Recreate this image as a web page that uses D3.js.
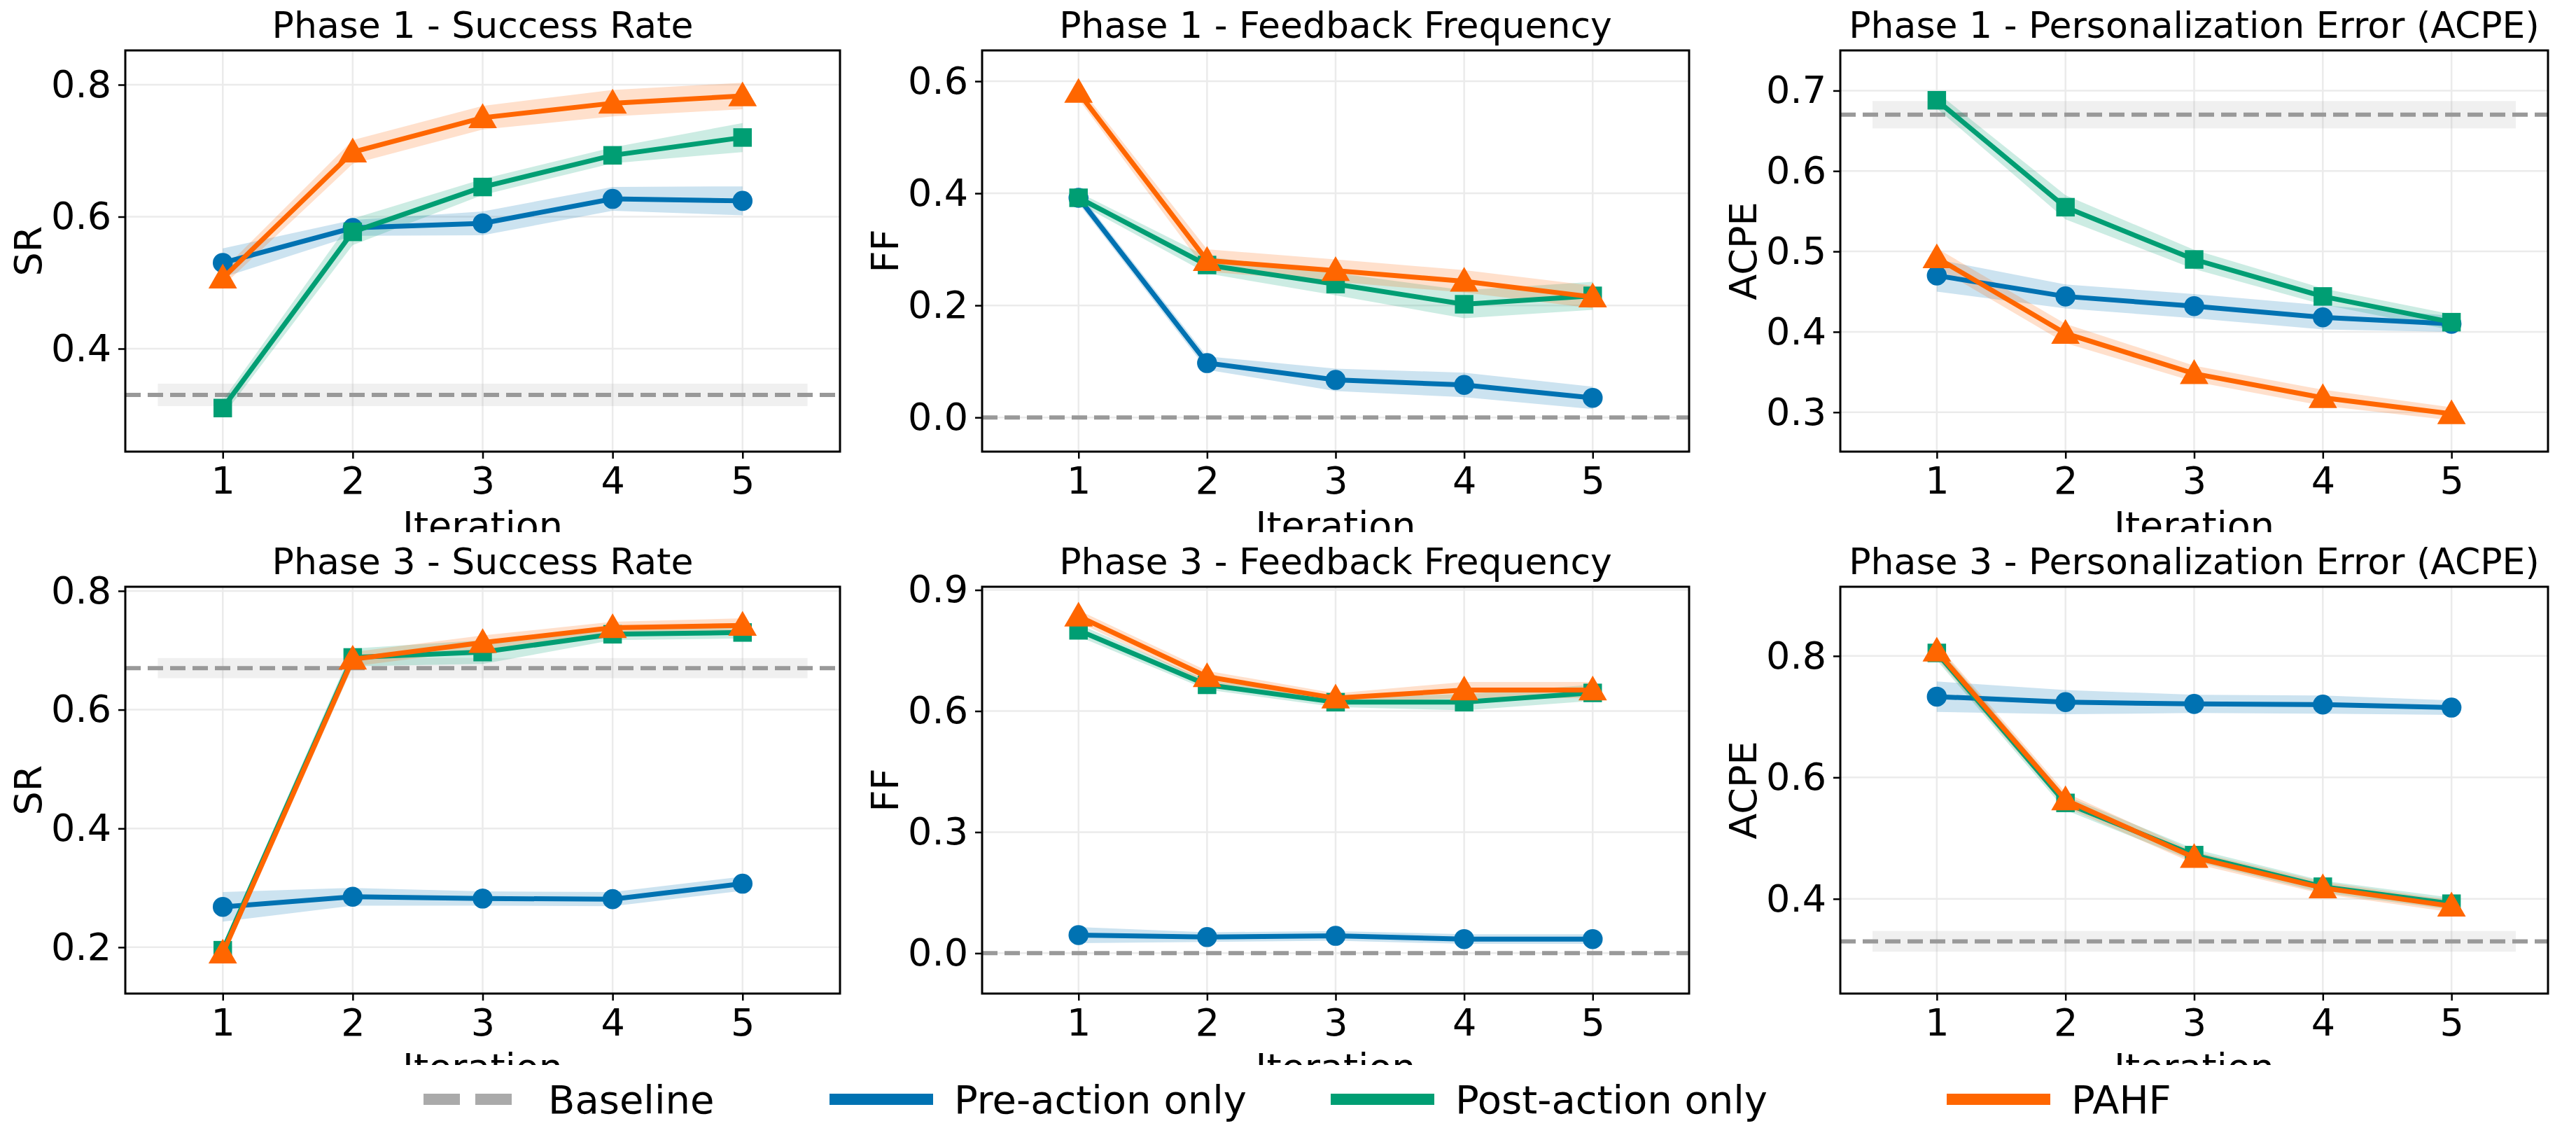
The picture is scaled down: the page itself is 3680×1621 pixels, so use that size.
<!DOCTYPE html>
<html><head><meta charset="utf-8">
<script src="https://cdn.jsdelivr.net/npm/d3@7"></script>
<style>body{margin:0;background:#fff}text{font-family:"DejaVu Sans",sans-serif}</style>
</head><body><svg id="c" width="3680" height="1621"></svg>
<script>
const iterations = [1, 2, 3, 4, 5];
const seriesNames = ["Pre-action only", "Post-action only", "PAHF"];
const colors = ["#0072B2", "#009E73", "#FF6600"];
const titles = ["Phase 1 - Success Rate", "Phase 1 - Feedback Frequency", "Phase 1 - Personalization Error (ACPE)",
                "Phase 3 - Success Rate", "Phase 3 - Feedback Frequency", "Phase 3 - Personalization Error (ACPE)"];
const yLabels = ["SR", "FF", "ACPE", "SR", "FF", "ACPE"];
const baselines = [0.33, 0.0, 0.67, 0.67, 0.0, 0.33];
const yDomains = [[0.244, 0.852], [-0.061, 0.655], [0.251, 0.75], [0.122, 0.807], [-0.1, 0.908], [0.244, 0.914]];
const yTicks = [[0.4, 0.6, 0.8], [0.0, 0.2, 0.4, 0.6], [0.3, 0.4, 0.5, 0.6, 0.7], [0.2, 0.4, 0.6, 0.8], [0.0, 0.3, 0.6, 0.9], [0.4, 0.6, 0.8]];
// values per panel: [pre, post, pahf]
const p1SR = [[0.530, 0.583, 0.590, 0.627, 0.624], [0.310, 0.577, 0.645, 0.693, 0.720], [0.507, 0.698, 0.750, 0.772, 0.783]];
const p1FF = [[0.392, 0.097, 0.067, 0.058, 0.035], [0.392, 0.272, 0.238, 0.202, 0.217], [0.580, 0.280, 0.262, 0.243, 0.215]];
const p1ACPE = [[0.470, 0.444, 0.432, 0.418, 0.410], [0.688, 0.555, 0.490, 0.444, 0.412], [0.492, 0.398, 0.348, 0.318, 0.298]];
const p3SR = [[0.268, 0.285, 0.282, 0.281, 0.307], [0.195, 0.688, 0.697, 0.727, 0.730], [0.190, 0.685, 0.713, 0.738, 0.742]];
const p3FF = [[0.045, 0.040, 0.043, 0.035, 0.035], [0.800, 0.665, 0.622, 0.622, 0.645], [0.835, 0.685, 0.632, 0.652, 0.652]];
const p3ACPE = [[0.733, 0.724, 0.721, 0.720, 0.715], [0.805, 0.558, 0.472, 0.420, 0.392], [0.808, 0.563, 0.468, 0.418, 0.388]];
const bandP1SR = [[0.022, 0.012, 0.018, 0.018, 0.022], [0.012, 0.02, 0.012, 0.012, 0.022], [0.012, 0.018, 0.018, 0.02, 0.02]];
const bandP1FF = [[0.01, 0.012, 0.02, 0.022, 0.02], [0.01, 0.015, 0.02, 0.025, 0.025], [0.012, 0.02, 0.02, 0.02, 0.02]];
const bandP1ACPE = [[0.02, 0.015, 0.015, 0.015, 0.01], [0.01, 0.015, 0.012, 0.01, 0.01], [0.012, 0.012, 0.01, 0.01, 0.008]];
const bandP3SR = [[0.025, 0.015, 0.012, 0.012, 0.012], [0.01, 0.015, 0.02, 0.01, 0.01], [0.01, 0.012, 0.012, 0.01, 0.012]];
const bandP3FF = [[0.02, 0.012, 0.012, 0.012, 0.012], [0.015, 0.012, 0.012, 0.02, 0.02], [0.015, 0.015, 0.012, 0.02, 0.02]];
const bandP3ACPE = [[0.025, 0.02, 0.015, 0.015, 0.012], [0.012, 0.012, 0.01, 0.01, 0.01], [0.012, 0.012, 0.01, 0.01, 0.01]];
const baselineBand = [0.017, 0.0, 0.017, 0.017, 0.0, 0.017];

const panelData = [p1SR, p1FF, p1ACPE, p3SR, p3FF, p3ACPE];
const panelBands = [bandP1SR, bandP1FF, bandP1ACPE, bandP3SR, bandP3FF, bandP3ACPE];

const svg = d3.select("#c");
const colX = [[179, 1200], [1403, 2413], [2629, 3640]];
const rowY = [[72, 645], [838, 1419]];
const clipBottom = [760, 1521];

const defs = svg.append("defs");
panelData.forEach((data, p) => {
  const r = Math.floor(p / 3), c = p % 3;
  const [x0, x1] = colX[c], [y0, y1] = rowY[r];
  defs.append("clipPath").attr("id", "cell" + p).append("rect")
    .attr("x", x0 - 200).attr("y", y0 - 80).attr("width", x1 - x0 + 220).attr("height", clipBottom[r] - y0 + 80);
  defs.append("clipPath").attr("id", "plot" + p).append("rect")
    .attr("x", x0).attr("y", y0).attr("width", x1 - x0).attr("height", y1 - y0);
  const g = svg.append("g").attr("clip-path", `url(#cell${p})`);
  const x = d3.scaleLinear().domain([0.25, 5.75]).range([x0, x1]);
  const y = d3.scaleLinear().domain(yDomains[p]).range([y1, y0]);
  g.append("g").selectAll("line").data(iterations).join("line")
    .attr("x1", d => x(d)).attr("x2", d => x(d)).attr("y1", y0).attr("y2", y1)
    .attr("stroke", "#ebebeb").attr("stroke-width", 2.5);
  g.append("g").selectAll("line").data(yTicks[p]).join("line")
    .attr("y1", d => y(d)).attr("y2", d => y(d)).attr("x1", x0).attr("x2", x1)
    .attr("stroke", "#ebebeb").attr("stroke-width", 2.5);
  const pg = g.append("g").attr("clip-path", `url(#plot${p})`);
  const bb = baselineBand[p];
  if (bb > 0) pg.append("rect").attr("x", x(0.5)).attr("width", x(5.5) - x(0.5))
    .attr("y", y(baselines[p] + bb)).attr("height", y(baselines[p] - bb) - y(baselines[p] + bb))
    .attr("fill", "#999").attr("opacity", 0.15);
  pg.append("line").attr("x1", x0).attr("x2", x1).attr("y1", y(baselines[p])).attr("y2", y(baselines[p]))
    .attr("stroke", "#999").attr("stroke-width", 6).attr("stroke-dasharray", "22,10");
  data.forEach((vals, s) => {
    const band = panelBands[p][s];
    const area = d3.area().x((d, i) => x(iterations[i])).y0((d, i) => y(d - band[i])).y1((d, i) => y(d + band[i]));
    pg.append("path").attr("d", area(vals)).attr("fill", colors[s]).attr("opacity", 0.2);
  });
  data.forEach((vals, s) => {
    const line = d3.line().x((d, i) => x(iterations[i])).y(d => y(d));
    pg.append("path").attr("d", line(vals)).attr("fill", "none").attr("stroke", colors[s]).attr("stroke-width", 7);
    const sym = [d3.symbolCircle, d3.symbolSquare, d3.symbolTriangle][s];
    const size = [640, 700, 720][s];
    pg.append("g").selectAll("path").data(vals).join("path")
      .attr("transform", (d, i) => `translate(${x(iterations[i])},${y(d) + (s === 2 ? 3 : 0)})`)
      .attr("d", d3.symbol().type(sym).size(size)).attr("fill", colors[s]);
  });
  g.append("rect").attr("x", x0).attr("y", y0).attr("width", x1 - x0).attr("height", y1 - y0)
    .attr("fill", "none").attr("stroke", "#000").attr("stroke-width", 3);
  const ax = g.append("g").attr("transform", `translate(0,${y1})`)
    .call(d3.axisBottom(x).tickValues(iterations).tickFormat(d3.format("d")).tickSize(10).tickPadding(12));
  const ay = g.append("g").attr("transform", `translate(${x0},0)`)
    .call(d3.axisLeft(y).tickValues(yTicks[p]).tickFormat(d3.format(".1f")).tickSize(10).tickPadding(10));
  [ax, ay].forEach(a => {
    a.select(".domain").remove();
    a.selectAll("line").attr("stroke", "#000").attr("stroke-width", 2.5);
    a.selectAll("text").attr("font-size", 54).attr("fill", "#000").attr("font-family", "DejaVu Sans");
  });
  g.append("text").attr("x", (x0 + x1) / 2).attr("y", y1 + 124).attr("text-anchor", "middle")
    .attr("font-size", 54).text("Iteration");
  g.append("text").attr("transform", `translate(${x0 - 120},${(y0 + y1) / 2}) rotate(-90)`)
    .attr("text-anchor", "middle").attr("font-size", 54).text(yLabels[p]);
  svg.append("text").attr("x", (x0 + x1) / 2).attr("y", y0 - 18).attr("text-anchor", "middle")
    .attr("font-size", 52).text(titles[p]);
});

const legendNames = ["Baseline"].concat(seriesNames);
const legendColors = ["#aaa"].concat(colors);
const legendX = [605, 1185, 1901, 2781];
const lg = svg.append("g");
legendNames.forEach((n, i) => {
  const l = lg.append("line").attr("x1", legendX[i]).attr("x2", legendX[i] + 148).attr("y1", 1570).attr("y2", 1570)
    .attr("stroke", legendColors[i]).attr("stroke-width", 16);
  if (i === 0) l.attr("stroke-dasharray", "52,22");
  lg.append("text").attr("x", legendX[i] + 178).attr("y", 1570).attr("dy", "0.35em")
    .attr("font-size", 56).text(n);
});
</script></body></html>
